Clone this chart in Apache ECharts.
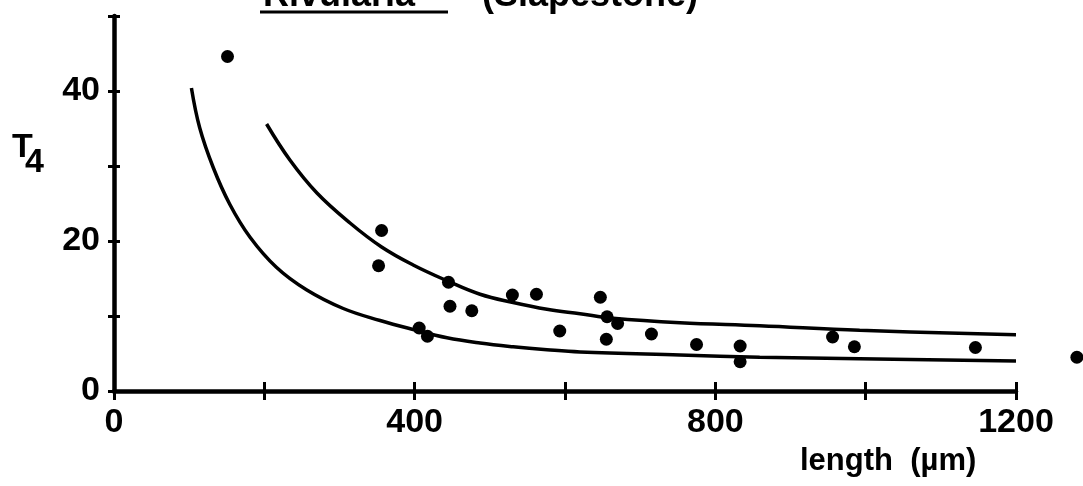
<!DOCTYPE html>
<html>
<head>
<meta charset="utf-8">
<script src="https://cdn.jsdelivr.net/npm/echarts@6/dist/echarts.min.js"></script>
<style>
html,body{margin:0;padding:0;background:#fff;}
#chart{width:1083px;height:486px;}
</style>
</head>
<body>
<div id="chart"></div>
<script>
// ---- data ----
const pointX = [151, 356, 352, 445, 447, 476, 406, 417, 530, 562, 593, 647, 656, 670, 655, 715, 775, 833, 833, 956, 985, 1146, 1281];
const pointY = [44.6, 21.4, 16.7, 14.5, 11.3, 10.7, 8.4, 7.3, 12.8, 12.9, 8.0, 12.5, 9.9, 9.0, 6.9, 7.6, 6.2, 6.0, 3.9, 7.2, 5.9, 5.8, 4.5];

const lowerX = [103, 114, 132, 154, 181, 216, 256, 305, 354, 398, 443, 487, 531, 576, 620, 753, 859, 992, 1200];
const lowerY = [40.4, 35.1, 29.8, 24.9, 20.5, 16.5, 13.5, 11.0, 9.4, 8.2, 7.1, 6.4, 5.9, 5.5, 5.2, 4.8, 4.5, 4.3, 4.0];

const upperX = [203, 234, 270, 314, 356, 398, 443, 487, 531, 576, 620, 664, 753, 859, 992, 1200];
const upperY = [35.6, 30.8, 26.4, 22.4, 19.2, 16.8, 14.7, 12.9, 11.8, 10.9, 10.3, 9.7, 9.1, 8.7, 8.1, 7.5];

const xTickLabels = [0, 400, 800, 1200];
const yTickLabels = [0, 20, 40];

const titleGenus = 'Rivularia';
const titleSite = '(Slapestone)';
const xName = 'length  (µm)';
const yNameMain = 'T';
const yNameSub = '4';

// ---- chart ----
const FONT = '"Liberation Sans", Arial, sans-serif';
const zip = (xs, ys) => xs.map((x, i) => [x, ys[i]]);

const chart = echarts.init(document.getElementById('chart'), null, {renderer: 'canvas'});
const gridBox = {left: 114, right: 67, top: 16, bottom: 95, containLabel: false};

chart.setOption({
  animation: false,
  backgroundColor: '#ffffff',
  grid: [Object.assign({}, gridBox), Object.assign({}, gridBox)],
  xAxis: [{
    type: 'value', gridIndex: 0, min: 0, max: 1200, interval: 200,
    axisLine: {show: true, lineStyle: {color: '#000', width: 4.5}},
    axisTick: {show: true, length: 9, lineStyle: {color: '#000', width: 3}},
    splitLine: {show: false},
    axisLabel: {
      color: '#000', fontFamily: FONT, fontWeight: 'bold', fontSize: 34,
      margin: 32, verticalAlign: 'middle',
      formatter: v => xTickLabels.includes(v) ? String(v) : ''
    }
  }, {
    type: 'value', gridIndex: 1, min: 0, max: 1200, interval: 200, position: 'bottom',
    axisLine: {show: false},
    axisTick: {show: true, inside: true, length: 9, lineStyle: {color: '#000', width: 3}},
    splitLine: {show: false}, axisLabel: {show: false}
  }],
  yAxis: [{
    type: 'value', gridIndex: 0, min: 0, max: 50, interval: 10,
    axisLine: {show: true, lineStyle: {color: '#000', width: 4.5}},
    axisTick: {show: true, length: 6, lineStyle: {color: '#000', width: 3}},
    splitLine: {show: false},
    axisLabel: {
      color: '#000', fontFamily: FONT, fontWeight: 'bold', fontSize: 34, margin: 14,
      formatter: v => yTickLabels.includes(v) ? String(v) : ''
    }
  }, {
    type: 'value', gridIndex: 1, min: 0, max: 50, interval: 10, position: 'left',
    axisLine: {show: false},
    axisTick: {show: true, inside: true, length: 6, lineStyle: {color: '#000', width: 3}},
    splitLine: {show: false}, axisLabel: {show: false}
  }],
  series: [{
    name: 'lower curve', type: 'line', xAxisIndex: 0, yAxisIndex: 0,
    data: zip(lowerX, lowerY), smooth: 0.4, showSymbol: false,
    lineStyle: {color: '#000', width: 3.5}
  }, {
    name: 'upper curve', type: 'line', xAxisIndex: 0, yAxisIndex: 0,
    data: zip(upperX, upperY), smooth: 0.4, showSymbol: false,
    lineStyle: {color: '#000', width: 3.5}
  }, {
    name: 'T4', type: 'scatter', xAxisIndex: 0, yAxisIndex: 0, clip: false,
    data: zip(pointX, pointY), symbol: 'circle', symbolSize: 13,
    itemStyle: {color: '#000', opacity: 1}
  }],
  graphic: [
    {type: 'text', left: 263, top: -22, style: {text: titleGenus, fill: '#000', font: 'bold 36px ' + FONT}},
    {type: 'line', shape: {x1: 260, y1: 12, x2: 448, y2: 12}, style: {stroke: '#000', lineWidth: 3}},
    {type: 'text', left: 482, top: -22, style: {text: titleSite, fill: '#000', font: 'bold 36px ' + FONT}},
    {type: 'text', left: 12, top: 131, style: {text: yNameMain, fill: '#000', font: 'bold 34px ' + FONT}},
    {type: 'text', left: 25, top: 146, style: {text: yNameSub, fill: '#000', font: 'bold 34px ' + FONT}},
    {type: 'text', left: 800, top: 446, style: {text: xName, fill: '#000', font: 'bold 31px ' + FONT}}
  ]
});
</script>
</body>
</html>
